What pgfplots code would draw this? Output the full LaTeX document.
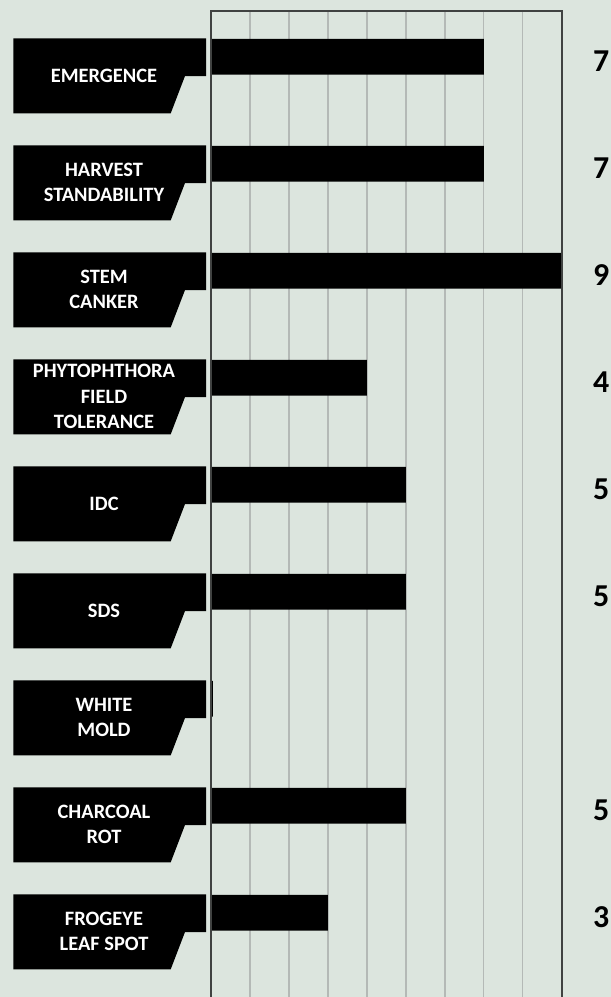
\documentclass[border=0pt]{standalone}
\usepackage{pgfplots}
\pgfplotsset{compat=1.18}
\usepackage{fontspec}
\setmainfont{Carlito}
\definecolor{bg}{RGB}{220,229,222}
\definecolor{gridc}{RGB}{180,185,182}
\definecolor{framec}{RGB}{64,66,65}

\begin{document}
\begin{tikzpicture}[x=1bp,y=1bp]
\fill[bg] (0,0) rectangle (611,-997);
\begin{axis}[
  at={(211bp,-11bp)}, anchor=north west,
  scale only axis, width=350.7bp, height=986bp,
  xmin=0, xmax=9, ymin=-0.428, ymax=8.787, y dir=reverse,
  axis line style={draw=none},
  xtick={1,...,8}, xticklabels={}, ytick=\empty,
  major tick length=0pt,
  xmajorgrids, grid style={gridc, line width=1.4bp},
  clip=false,
]
\addplot[xbar, fill=black, draw=none, bar width=0.3336] table {
x y
7 0
7 1
9 2
4 3
5 4
5 5
0.05 6
5 7
3 8
};
\addplot[draw=none, mark=none, nodes near coords, point meta=explicit symbolic,
  every node near coord/.style={anchor=west, inner sep=0pt, text=black,
    font=\bfseries\fontsize{32}{38}\selectfont, yshift=-4bp}] table[meta=v] {
x y v
9.8 0 7
9.8 1 7
9.8 2 9
9.8 3 4
9.8 4 5
9.8 5 5
9.8 7 5
9.8 8 3
};
\draw[framec, line width=2bp] (axis cs:0,8.787) -- (axis cs:0,-0.428) -- (axis cs:9,-0.428) -- (axis cs:9,8.787);
\end{axis}
\foreach \cy/\txt in {56.8/{EMERGENCE}, 163.8/{HARVEST\\STANDABILITY}, 270.8/{STEM\\CANKER},
  377.8/{PHYTOPHTHORA\\FIELD\\TOLERANCE}, 484.8/{IDC}, 591.8/{SDS}, 698.8/{WHITE\\MOLD},
  805.8/{CHARCOAL\\ROT}, 912.8/{FROGEYE\\LEAF SPOT}} {
  \pgfmathsetmacro\ta{-(\cy-18.5)}
  \pgfmathsetmacro\tb{-(\cy+19.2)}
  \pgfmathsetmacro\tc{-(\cy+56.5)}
  \pgfmathsetmacro\tt{-(\cy+18.7)}
  \fill[black] (13.3,\ta) -- (206,\ta) -- (206,\tb) -- (185,\tb) -- (170.7,\tc) -- (13.3,\tc) -- cycle;
  \node[text=white, align=center, inner sep=0pt, font=\bfseries\fontsize{20.5}{25.5}\selectfont] at (104,\tt) {\txt};
}
\pgfresetboundingbox
\useasboundingbox (0,0) rectangle (611,-997);
\end{tikzpicture}
\end{document}
